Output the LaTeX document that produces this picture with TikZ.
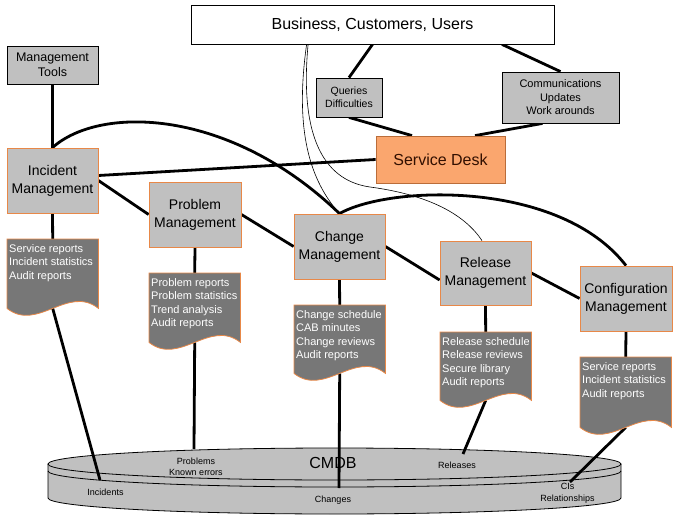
\documentclass[tikz,border=0pt]{standalone}
\usepackage{fontspec}
\setmainfont{Liberation Sans}
\usetikzlibrary{calc}
\pgfdeclarelayer{background}
\pgfsetlayers{background,main}
\definecolor{boxgray}{RGB}{192,192,192}
\definecolor{docgray}{RGB}{119,119,119}
\definecolor{edgeorange}{RGB}{232,136,72}
\definecolor{sdfill}{RGB}{250,166,110}
\definecolor{sdtext}{RGB}{50,15,0}
\newcommand{\drawdoc}[1]{%
  \draw[docshape] (#1.north west) -- (#1.north east) -- (#1.south east)
    .. controls ($(#1.south east)+(-30.3,-24)$) and ($(#1.south west)+(30.3,24)$) .. (#1.south west) -- cycle;}
\begin{document}
\begin{tikzpicture}[x=1pt,y=-1pt,
  fs/.style 2 args={font=\fontsize{#1}{#2}\selectfont},
  graybox/.style={draw=black, line width=0.8pt, fill=boxgray, inner sep=0pt, align=center},
  procbox/.style={draw=edgeorange, line width=0.8pt, fill=boxgray, inner sep=0pt, align=center,
    minimum width=91pt, minimum height=65pt, fs={14}{18}},
  docarea/.style={inner sep=0pt, minimum width=91pt, minimum height=69pt, anchor=north west},
  docshape/.style={draw=edgeorange, line width=0.8pt, fill=docgray},
  doctext/.style={anchor=north west, inner sep=0pt, align=left, text=white, fs={11}{13.5}},
  conn/.style={line width=2.8pt, black},
  thinconn/.style={line width=0.6pt, black},
  dblabel/.style={inner sep=0pt, align=center, fs={9}{11.5}},
  cyl/.style={draw=black, line width=0.8pt, fill=boxgray},
]
\useasboundingbox (0,0) rectangle (678,519);

% top boxes
\node[draw=black, line width=0.8pt, fill=white, minimum width=363pt, minimum height=39pt, inner sep=0pt, fs={16}{19}]
  (bus) at (372.5,24.5) {Business, Customers, Users};
\node[graybox, minimum width=91pt, minimum height=38pt, fs={12.5}{15}] (mt) at (52.5,65) {Management\\Tools};
\node[graybox, minimum width=66pt, minimum height=39pt, fs={10.5}{12.7}] (qd) at (349,97.5) {Queries\\Difficulties};
\node[graybox, minimum width=117pt, minimum height=51pt, fs={11}{13.5}] (comm) at (560.5,97.5) {Communications\\Updates\\Work arounds};
\node[draw=edgeorange!80!black, line width=0.8pt, fill=sdfill, text=sdtext, minimum width=129pt, minimum height=47pt,
  inner sep=0pt, fs={16}{19}] (sd) at (440.5,159.5) {Service Desk};

% process boxes
\node[procbox] (inc) at (52.5,180.5) {Incident\\Management};
\node[procbox, minimum width=92pt] (prob) at (195,214.5) {Problem\\Management};
\node[procbox] (chg) at (339.5,246.5) {Change\\Management};
\node[procbox, minimum height=64pt] (rel) at (485.5,273) {Release\\Management};
\node[procbox, minimum width=92pt] (cfg) at (626,298.5) {Configuration\\Management};

% documents
\node[docarea] (incdoc) at (7,239) {};
\drawdoc{incdoc}
\node[doctext] (incdoctext) at ($(incdoc.north west)+(2,5)$) {Service reports\\Incident statistics\\Audit reports};
\node[docarea] (probdoc) at (149,273) {};
\drawdoc{probdoc}
\node[doctext] (probdoctext) at ($(probdoc.north west)+(2,5)$) {Problem reports\\Problem statistics\\Trend analysis\\Audit reports};
\node[docarea, minimum height=68pt] (chgdoc) at (294,305) {};
\drawdoc{chgdoc}
\node[doctext] (chgdoctext) at ($(chgdoc.north west)+(2,5)$) {Change schedule\\CAB minutes\\Change reviews\\Audit reports};
\node[docarea, minimum height=68pt] (reldoc) at (440,332) {};
\drawdoc{reldoc}
\node[doctext] (reldoctext) at ($(reldoc.north west)+(2,5)$) {Release schedule\\Release reviews\\Secure library\\Audit reports};
\node[docarea, minimum height=70pt] (cfgdoc) at (580,357) {};
\drawdoc{cfgdoc}
\node[doctext] (cfgdoctext) at ($(cfgdoc.north west)+(2,5)$) {Service reports\\Incident statistics\\Audit reports};

% CMDB labels and end points
\coordinate (cmdb) at (334.5,480);
\node[inner sep=0pt, fs={16}{19}] (cmdblabel) at (333,463) {CMDB};
\node[dblabel] (lblprob) at (196,467) {Problems\\Known errors};
\node[dblabel] (lblinc) at (105.5,492) {Incidents};
\node[dblabel] (lblchg) at (333,500) {Changes};
\node[dblabel] (lblrel) at (457,465) {Releases};
\node[dblabel] (lblcfg) at (567.5,493.5) {CIs\\Relationships};
\coordinate (pinc) at (100,480);
\coordinate (pprob) at (194,449);
\coordinate (pchg) at (339,488);
\coordinate (prel) at (463,454);
\coordinate (pcfg) at (570,482);

\begin{pgfonlayer}{background}
  % cylinder
  \path[cyl] (48,464) -- (48,498) .. controls (48,506.8) and (176.3,514) .. (334.5,514)
     .. controls (492.7,514) and (621,506.8) .. (621,498) -- (621,464);
  \path[cyl] (334.5,464) ellipse [x radius=286.5, y radius=16];
  \draw[line width=0.8pt] (48,471) .. controls (48,479.8) and (176.3,487) .. (334.5,487)
     .. controls (492.7,487) and (621,479.8) .. (621,471);

  % connectors
  \draw[conn] (bus.south) -- (qd.north);
  \draw[conn] ([xshift=129.5pt]bus.south) -- (comm.north);
  \draw[conn] (qd.south) -- ([xshift=-28.5pt]sd.north);
  \draw[conn] ([xshift=-18pt]comm.south) -- ([xshift=34.5pt]sd.north);
  \draw[conn] (sd.west) -- ([yshift=5pt]inc.east);
  \draw[conn] (mt.south) -- (inc.north);
  \draw[conn] (inc.north) .. controls (100,105) and (230,108) .. (chg.north);
  \draw[conn] (chg.north) .. controls (390,185) and (560,180) .. (cfg.north);
  \draw[conn] (inc.east) -- (prob.west);
  \draw[conn] (prob.east) -- (chg.west);
  \draw[conn] (chg.east) -- ([yshift=-7pt]rel.west);
  \draw[conn] (rel.east) -- (cfg.west);
  \draw[conn] (inc.south) -- (incdoc.north);
  \draw[conn] (prob.south) -- (probdoc.north);
  \draw[conn] (chg.south) -- (chgdoc.north);
  \draw[conn] (rel.south) -- (reldoc.north);
  \draw[conn] (cfg.south) -- (cfgdoc.north);
  \draw[conn] (incdoc.south) -- (pinc);
  \draw[conn] (probdoc.south) -- (pprob);
  \draw[conn] (chgdoc.south) -- (pchg);
  \draw[conn] (reldoc.south) -- (prel);
  \draw[conn] (cfgdoc.south) -- (pcfg);
  % thin curves
  \draw[thinconn] ([xshift=116pt]bus.south west) .. controls (296,120) and (305,175) .. (chg.north);
  \draw[thinconn] ([xshift=117.5pt]bus.south west) .. controls (300,130) and (320,180) .. (370,187)
     .. controls (430,195) and (465,215) .. ([xshift=-3.5pt]rel.north);
\end{pgfonlayer}
\end{tikzpicture}
\end{document}
